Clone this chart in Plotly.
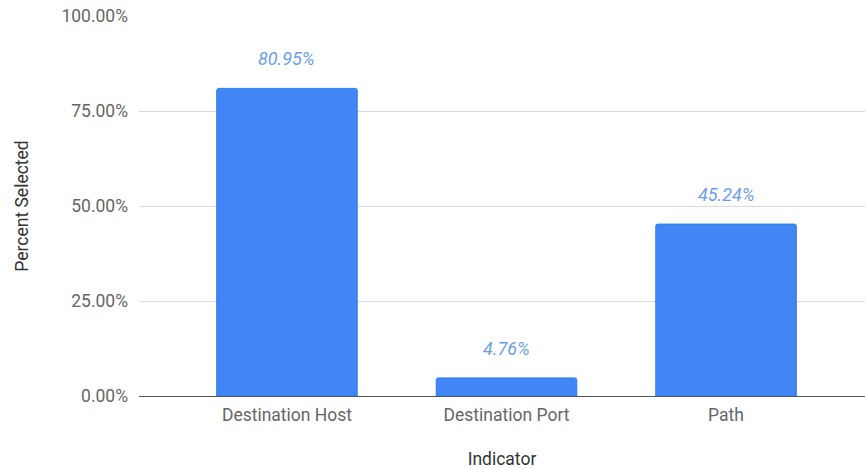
import plotly.graph_objects as go

categories = ["Destination Host", "Destination Port", "Path"]
values = [80.95, 4.76, 45.24]
value_labels = ["80.95%", "4.76%", "45.24%"]
y_ticks = [0, 25, 50, 75, 100]
y_tick_labels = ["0.00%", "25.00%", "50.00%", "75.00%", "100.00%"]

fig = go.Figure()
fig.add_trace(go.Bar(
    x=categories, y=values, width=0.64,
    marker=dict(color="#4285f4", line=dict(color="#2b7bf0", width=1), cornerradius=2),
    hoverinfo="skip",
))
for c, v, t in zip(categories, values, value_labels):
    fig.add_annotation(x=c, y=v, text=t, showarrow=False, yanchor="bottom", yshift=17,
                       font=dict(family="Roboto", size=18, color="#6d9eeb", style="italic"))

fig.update_layout(
    width=865, height=469,
    margin=dict(l=139, r=0, t=16, b=73),
    paper_bgcolor="white", plot_bgcolor="white",
    font=dict(family="Roboto", size=18, color="#666666"),
    showlegend=False,
    xaxis=dict(range=[-0.674, 2.633], showgrid=False, showline=False, ticks="",
               ticklabelstandoff=6,
               tickfont=dict(size=17.5, color="#666666"),
               title=dict(text="Indicator", standoff=30, font=dict(size=17.5, color="#333333"))),
    yaxis=dict(range=[0, 100], tickvals=y_ticks, ticktext=y_tick_labels,
               showgrid=True, gridcolor="#d9d9d9", gridwidth=1, zeroline=True,
               zerolinecolor="#555555", zerolinewidth=1, showline=False, ticks="",
               ticklabelstandoff=10, tickfont=dict(size=17.5, color="#666666"),
               title=dict(text="Percent Selected", standoff=28, font=dict(size=17.5, color="#333333"))),
)
fig.write_html("out.html")
